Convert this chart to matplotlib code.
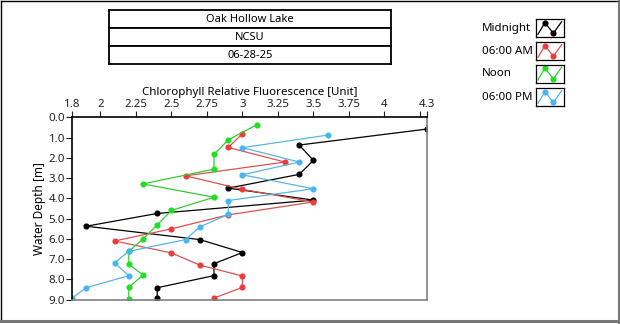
import numpy as np
import matplotlib.pyplot as plt
from matplotlib.lines import Line2D

plt.rcParams['font.family'] = ['Noto Sans', 'DejaVu Sans']

# chlorophyll profiles: depth [m] and fluorescence for each time of day
depth_midnight = [0.58, 1.37, 2.13, 2.82, 3.50, 4.09, 4.75, 5.38, 6.04, 6.68, 7.23, 7.82, 8.42, 8.91]
fluor_midnight = [4.3, 3.4, 3.5, 3.4, 2.9, 3.5, 2.4, 1.9, 2.7, 3.0, 2.8, 2.8, 2.4, 2.4]

depth_6am = [0.81, 1.49, 2.21, 2.89, 3.56, 4.18, 4.82, 5.51, 6.11, 6.70, 7.30, 7.84, 8.40, 8.93]
fluor_6am = [3.0, 2.9, 3.3, 2.6, 3.0, 3.5, 2.9, 2.5, 2.1, 2.5, 2.7, 3.0, 3.0, 2.8]

depth_noon = [0.37, 1.12, 1.83, 2.56, 3.29, 3.95, 4.60, 5.32, 6.01, 6.62, 7.25, 7.79, 8.40, 8.98]
fluor_noon = [3.1, 2.9, 2.8, 2.8, 2.3, 2.8, 2.5, 2.4, 2.3, 2.2, 2.2, 2.3, 2.2, 2.2]

depth_6pm = [0.88, 1.50, 2.21, 2.84, 3.53, 4.11, 4.80, 5.41, 6.04, 6.62, 7.19, 7.82, 8.42, 8.93]
fluor_6pm = [3.6, 3.0, 3.4, 3.0, 3.5, 2.9, 2.9, 2.7, 2.6, 2.2, 2.1, 2.2, 1.9, 1.8]

series = [
    ('Midnight', depth_midnight, fluor_midnight, '#000000', '#000000', 'o'),
    ('06:00 AM', depth_6am, fluor_6am, '#d9534f', '#f03a3a', 'o'),
    ('Noon', depth_noon, fluor_noon, '#33cc33', '#1ee01e', 'o'),
    ('06:00 PM', depth_6pm, fluor_6pm, '#5ab4e6', '#45b6f2', 'o'),
]

title_rows = ['Oak Hollow Lake', 'NCSU', '06-28-25']
x_ticks = [1.8, 2.0, 2.25, 2.5, 2.75, 3.0, 3.25, 3.5, 3.75, 4.0, 4.25, 4.3]
x_tick_labels = ['1.8', '2', '2.25', '2.5', '2.75', '3', '3.25', '3.5', '3.75', '4', '', '4.3']
y_ticks = np.arange(0, 10, 1.0)

W, H = 620, 324
fig = plt.figure(figsize=(W / 100, H / 100), dpi=100)


def box(x0, y0, x1, y1):
    # pixel box (top-left origin) -> figure rect
    return [x0 / W, 1 - y1 / H, (x1 - x0) / W, (y1 - y0) / H]


ax = fig.add_axes(box(72, 117.3, 427, 299.5))
for name, d, f, lc, mc, m in series:
    ax.plot(f, d, color=lc, lw=0.9, marker=m, ms=3.4, mfc=mc, mec=mc)

ax.set_xlim(1.8, 4.3)
ax.set_ylim(9.0, 0.0)
ax.xaxis.tick_top()
ax.xaxis.set_label_position('top')
ax.set_xticks(x_ticks)
ax.set_xticklabels(x_tick_labels)
ax.set_yticks(y_ticks)
ax.set_yticklabels([f'{v:.1f}' for v in y_ticks])
ax.tick_params(axis='both', labelsize=8.3, length=4, width=0.8, pad=1, colors='#222222')
ax.set_xlabel('Chlorophyll Relative Fluorescence [Unit]', fontsize=8.3, labelpad=3)
ax.set_ylabel('Water Depth [m]', fontsize=8.5, labelpad=2)
ax.spines['left'].set_color('black')
ax.spines['top'].set_color('black')
ax.spines['right'].set_color('#808080')
ax.spines['bottom'].set_color('#808080')
for s in ax.spines.values():
    s.set_linewidth(1.2)

# title block above the chart
for i, txt in enumerate(title_rows):
    tax = fig.add_axes(box(108.5, 10 + 18 * i, 391, 28 + 18 * i))
    tax.set_xticks([])
    tax.set_yticks([])
    for s in tax.spines.values():
        s.set_linewidth(1.3)
    tax.text(0.5, 0.5, txt, ha='center', va='center', fontsize=8)

# legend entries with small line icons
icon_x = [0.0, 0.3, 0.65, 1.0]
icon_y = [0.15, 0.8, 0.2, 0.85]
label_y = [28, 51, 73.5, 97]
for (name, d, f, lc, mc, m), ly in zip(series, label_y):
    fig.text(482 / W, 1 - ly / H, name, ha='left', va='center', fontsize=8.3)
    iax = fig.add_axes(box(536, ly - 9, 563.5, ly + 9))
    iax.set_xlim(-0.08, 1.08)
    iax.set_ylim(0, 1)
    iax.set_xticks([])
    iax.set_yticks([])
    iax.plot(icon_x, icon_y, color=lc, lw=0.9)
    iax.plot(icon_x[1:3], icon_y[1:3], ls='none', marker=m, ms=3.4,
             mfc=mc, mec=mc)
    for s in iax.spines.values():
        s.set_linewidth(0.9)

# panel frame
fig.add_artist(Line2D([0.5 / W, 0.5 / W], [1 - 0.5 / H, 1 - 321 / H], color='black', lw=1))
fig.add_artist(Line2D([0.5 / W, 618 / W], [1 - 0.5 / H, 1 - 0.5 / H], color='black', lw=1))
fig.add_artist(Line2D([618.5 / W, 618.5 / W], [1 - 0 / H, 1 - 322 / H], color='#777777', lw=2.2))
fig.add_artist(Line2D([0, 619 / W], [1 - 321 / H, 1 - 321 / H], color='#777777', lw=2.2))

fig.savefig('out.png', dpi=100)
